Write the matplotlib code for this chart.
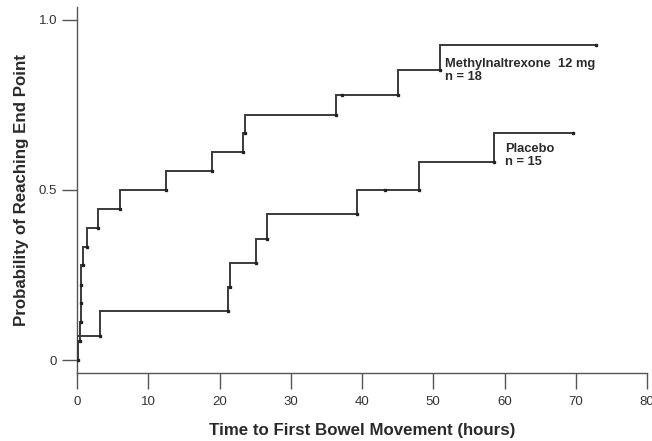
import matplotlib
matplotlib.use("Agg")
import matplotlib.pyplot as plt
import numpy as np

plt.rcParams['font.family'] = ['Liberation Sans', 'DejaVu Sans']

# Methylnaltrexone 12 mg (n = 18): event times (h) and cumulative probability after each event
mnx_times = [0.0, 0.1, 0.4, 0.5, 0.55, 0.6, 0.8, 1.45, 3.0, 6.0, 12.5, 19.0, 23.3, 23.6, 36.3, 45.1, 51.0]
mnx_prob = [0.0, 0.056, 0.111, 0.167, 0.222, 0.278, 0.333, 0.389, 0.444, 0.5, 0.556, 0.611, 0.667, 0.722, 0.778, 0.852, 0.926]
mnx_end = 72.8
mnx_censor = [37.2, 72.8]

# Placebo (n = 15)
pbo_times = [0.0, 0.05, 3.2, 21.2, 21.5, 25.1, 26.7, 39.3, 48.0, 58.5]
pbo_prob = [0.0, 0.071, 0.143, 0.214, 0.286, 0.357, 0.429, 0.5, 0.583, 0.667]
pbo_end = 69.6
pbo_censor = [43.2, 69.6]

x_ticks = [0, 10, 20, 30, 40, 50, 60, 70, 80]
y_ticks = [0, 0.5, 1.0]
y_ticklabels = ['0', '0.5', '1.0']

line_col = '#3a3a3a'
axis_col = '#555555'
text_col = '#2a2a2a'

fig = plt.figure(figsize=(6.52, 4.41), dpi=100)
ax = fig.add_axes([77/652, 1-373/441, (647-77)/652, (373-7)/441])


def draw(times, prob, end, censor):
    xs = list(times) + [end]
    ys = list(prob) + [prob[-1]]
    ax.step(xs, ys, where='post', color=line_col, lw=1.4, solid_joinstyle='miter', zorder=3)
    # small marks at the corner before each step and at censored times
    mx, my = [], []
    for i in range(1, len(times)):
        mx.append(times[i]); my.append(prob[i-1])
    for c in censor:
        idx = np.searchsorted(times, c, side='right') - 1
        mx.append(c); my.append(prob[idx])
    ax.plot(mx, my, ls='none', marker='s', ms=2.0, color='#222222', zorder=4)


draw(mnx_times, mnx_prob, mnx_end, mnx_censor)
draw(pbo_times, pbo_prob, pbo_end, pbo_censor)

ax.set_xlim(0, 80)
ax.set_ylim(-0.0382, 1.0382)
ax.set_xticks(x_ticks)
ax.set_yticks(y_ticks)
ax.set_yticklabels(y_ticklabels)

for s in ['top', 'right']:
    ax.spines[s].set_visible(False)
for s in ['left', 'bottom']:
    ax.spines[s].set_color(axis_col)
    ax.spines[s].set_linewidth(1.0)

ax.tick_params(axis='x', length=11.5, width=1.0, color=axis_col, labelcolor='#333333',
               labelsize=9.5, pad=5)
ax.tick_params(axis='y', length=10.8, width=1.0, color=axis_col, labelcolor='#333333',
               labelsize=9.5, pad=3.5)

ax.set_xlabel('Time to First Bowel Movement (hours)', fontsize=12.2, fontweight='bold',
              color=text_col, labelpad=11)
ax.set_ylabel('Probability of Reaching End Point', fontsize=12.2, fontweight='bold',
              color=text_col, labelpad=7)

ax.text(51.7, 0.888, 'Methylnaltrexone  12 mg\nn = 18', fontsize=9.3, fontweight='bold',
        color=text_col, va='top', ha='left', linespacing=1.15)
ax.text(60.1, 0.639, 'Placebo\nn = 15', fontsize=9.3, fontweight='bold',
        color=text_col, va='top', ha='left', linespacing=1.15)

fig.savefig('out.png', dpi=100)
